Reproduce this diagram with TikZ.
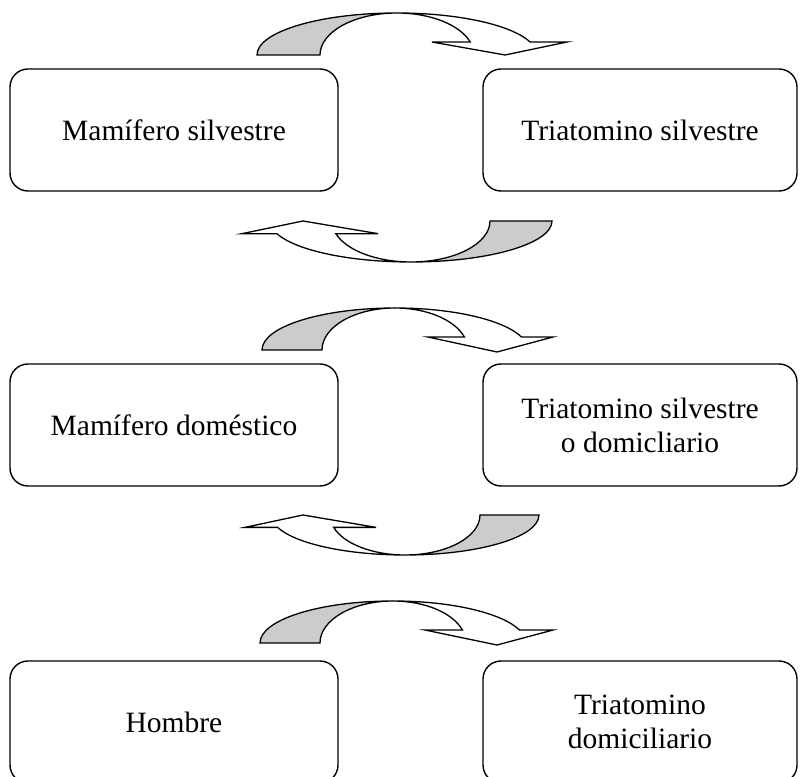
\documentclass[tikz,border=0pt]{standalone}
\usepackage{fontspec}
\setmainfont{Liberation Serif}
\definecolor{ribbongray}{RGB}{204,204,204}
\tikzset{
  box/.style={draw=black, line width=1.4pt, rounded corners=18pt, minimum height=122pt,
              inner sep=0pt, align=center, font=\fontsize{29.5}{34}\selectfont},
  ribbonback/.style={draw=black, line width=1.3pt, fill=ribbongray, line join=miter},
  ribbonfront/.style={draw=black, line width=1.3pt, fill=white, line join=miter},
}
% curved arrow over the boxes, pointing down-right
% #1 cx, #2 base y (screen), #3 outer radius, #4 inner radius, #5 height,
% #6 left wing x, #7 right wing x, #8 tip x, #9 tip y (screen)
\newcommand{\overarrow}[9]{%
  \filldraw[ribbonback] ({#1-#3},{776-#2})
     arc[start angle=180, end angle=90, x radius=#3, y radius=#5]
     arc[start angle=90, end angle=180, x radius=#4, y radius=#5] -- cycle;
  \filldraw[ribbonfront] (#1,{776-#2+#5})
     arc[start angle=90, end angle=18, x radius=#3, y radius=#5]
     -- (#7,{776-#2+0.309*#5}) -- (#8,{776-#9}) -- (#6,{776-#2+0.309*#5})
     -- ({#1+0.951*#4},{776-#2+0.309*#5})
     arc[start angle=18, end angle=90, x radius=#4, y radius=#5] -- cycle;
}
% curved arrow under the boxes, pointing up-left
% #1 cx, #2 top y (screen), #3 outer radius, #4 inner radius, #5 height,
% #6 left wing x, #7 right wing x, #8 tip x, #9 tip y (screen)
\newcommand{\underarrow}[9]{%
  \filldraw[ribbonback] ({#1+#3},{776-#2})
     arc[start angle=0, end angle=-90, x radius=#3, y radius=#5]
     arc[start angle=-90, end angle=0, x radius=#4, y radius=#5] -- cycle;
  \filldraw[ribbonfront] (#1,{776-#2-#5})
     arc[start angle=-90, end angle=-162, x radius=#3, y radius=#5]
     -- (#6,{776-#2-0.309*#5}) -- (#8,{776-#9}) -- (#7,{776-#2-0.309*#5})
     -- ({#1-0.951*#4},{776-#2-0.309*#5})
     arc[start angle=-162, end angle=-90, x radius=#4, y radius=#5] -- cycle;
}
\begin{document}
\begin{tikzpicture}[x=1pt, y=1pt]
\useasboundingbox (0,0) rectangle (800,776);
\clip (0,0) rectangle (800,776);
\fill[white] (0,0) rectangle (800,776);

% row 1
\node[box, minimum width=328pt] (ms) at (174,{776-130}) {Mamífero silvestre};
\node[box, minimum width=314pt] (ts) at (640,{776-130}) {Triatomino silvestre};
\overarrow{397}{55}{140}{77}{42}{432}{567}{505}{55}
\underarrow{411}{221}{141}{79}{41}{242}{378}{303}{221}

% row 2
\node[box, minimum width=328pt] (md) at (174,{776-425}) {Mamífero doméstico};
\node[box, minimum width=314pt] (tsd) at (640,{776-425}) {Triatomino silvestre\\o domicliario};
\overarrow{395}{350}{133}{73}{42}{428}{553}{497}{352}
\underarrow{405}{515}{134}{75}{40}{245}{376}{303}{515}

% row 3
\node[box, minimum width=328pt] (h) at (174,{776-722}) {Hombre};
\node[box, minimum width=314pt] (td) at (640,{776-722}) {Triatomino\\domiciliario};
\overarrow{393}{643}{133}{73}{42}{425}{553}{497}{645}
\end{tikzpicture}
\end{document}
